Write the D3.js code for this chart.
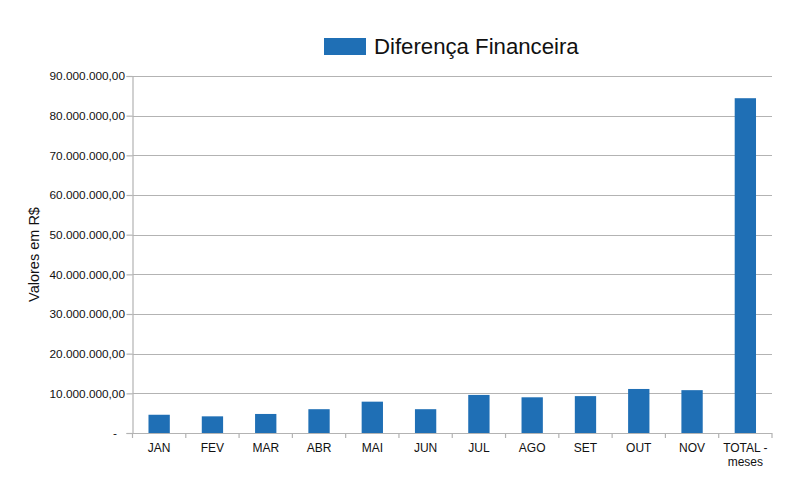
<!DOCTYPE html>
<html>
<head>
<meta charset="utf-8">
<script src="https://cdn.jsdelivr.net/npm/d3@7"></script>
<style>
  html, body { margin: 0; padding: 0; background: #fff; }
  svg { display: block; font-family: "Liberation Sans", Arial, sans-serif; }
</style>
</head>
<body>
<svg id="chart" width="800" height="504"></svg>
<script>
const categories = ["JAN", "FEV", "MAR", "ABR", "MAI", "JUN", "JUL", "AGO", "SET", "OUT", "NOV", "TOTAL - meses"];
const values = [4600000, 4200000, 4800000, 6000000, 7900000, 6000000, 9600000, 9000000, 9300000, 11100000, 10800000, 84400000];
const yTicks = [0, 10000000, 20000000, 30000000, 40000000, 50000000, 60000000, 70000000, 80000000, 90000000];
const seriesName = "Diferença Financeira";
const yTitle = "Valores em R$";

const svg = d3.select("#chart");
const plotLeft = 132.5, plotRight = 772, plotTop = 76, plotBottom = 433;
const barColor = "#1f6fb5";
const gridColor = "#b3b3b3";

const x = d3.scaleBand().domain(categories).range([plotLeft, plotRight]).paddingInner(0).paddingOuter(0);
const y = d3.scaleLinear().domain([0, 90000000]).range([plotBottom, plotTop]);

const numFmt = d3.formatLocale({decimal: ",", thousands: ".", grouping: [3], currency: ["R$", ""]}).format(",.2f");
const fmt = v => v === 0 ? "-" : numFmt(v);

// gridlines
svg.append("g")
  .selectAll("line")
  .data(yTicks)
  .join("line")
  .attr("x1", plotLeft).attr("x2", plotRight)
  .attr("y1", d => Math.round(y(d)) + 0.5).attr("y2", d => Math.round(y(d)) + 0.5)
  .attr("stroke", gridColor).attr("stroke-width", 1.2);

// y axis
const yAxis = svg.append("g")
  .attr("transform", `translate(${plotLeft},0)`)
  .call(d3.axisLeft(y).tickValues(yTicks).tickFormat(fmt).tickSize(6).tickPadding(1.5));
yAxis.select(".domain").attr("stroke", gridColor).attr("stroke-width", 1.2);
yAxis.selectAll(".tick line").attr("stroke", gridColor).attr("stroke-width", 1.2);
yAxis.selectAll(".tick text")
  .attr("fill", "#111")
  .attr("font-size", "11.8px")
  .attr("font-family", "'Liberation Sans', Arial, sans-serif")
  .attr("dx", d => d === 0 ? -8 : 0);

// x axis
const xAxis = svg.append("g")
  .attr("transform", `translate(0,${plotBottom})`);
xAxis.append("line")
  .attr("x1", plotLeft).attr("x2", plotRight).attr("y1", 0.5).attr("y2", 0.5)
  .attr("stroke", gridColor).attr("stroke-width", 1.2);
const bounds = categories.map(c => x(c)).concat([x(categories[categories.length - 1]) + x.bandwidth()]);
xAxis.selectAll("line.tk")
  .data(bounds)
  .join("line")
  .attr("class", "tk")
  .attr("x1", d => d).attr("x2", d => d)
  .attr("y1", 0).attr("y2", 5)
  .attr("stroke", gridColor).attr("stroke-width", 1.2);
const lbl = xAxis.selectAll("text")
  .data(categories)
  .join("text")
  .attr("x", d => x(d) + x.bandwidth() / 2)
  .attr("y", 19)
  .attr("text-anchor", "middle")
  .attr("font-size", "12px")
  .attr("fill", "#111");
lbl.each(function(d) {
  const parts = d === "TOTAL - meses" ? ["TOTAL -", "meses"] : [d];
  const t = d3.select(this);
  parts.forEach((p, i) => {
    t.append("tspan").attr("x", x(d) + x.bandwidth() / 2).attr("dy", i === 0 ? 0 : 14).text(p);
  });
});

// bars
const bw = x.bandwidth() * 0.4;
svg.append("g")
  .selectAll("rect")
  .data(categories.map((c, i) => ({c, v: values[i]})))
  .join("rect")
  .attr("x", d => x(d.c) + (x.bandwidth() - bw) / 2)
  .attr("width", bw)
  .attr("y", d => y(d.v))
  .attr("height", d => y(0) - y(d.v))
  .attr("fill", barColor);

// y title
svg.append("text")
  .attr("transform", `translate(39,254.5) rotate(-90)`)
  .attr("text-anchor", "middle")
  .attr("font-size", "14.5px")
  .attr("fill", "#111")
  .text(yTitle);

// legend
svg.append("rect")
  .attr("x", 324).attr("y", 38).attr("width", 42).attr("height", 17)
  .attr("fill", barColor);
svg.append("text")
  .attr("x", 374).attr("y", 54)
  .attr("font-size", "22.2px")
  .attr("fill", "#111")
  .text(seriesName);
</script>
</body>
</html>
